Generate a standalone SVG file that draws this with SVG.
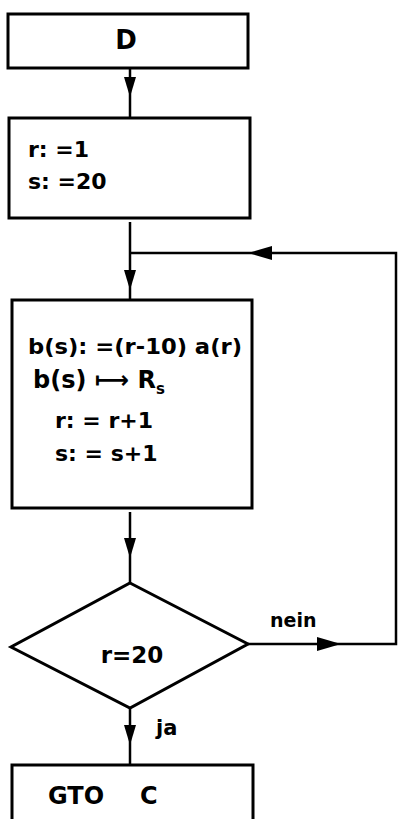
<svg xmlns="http://www.w3.org/2000/svg" width="398" height="819" viewBox="0 0 398 819">
<defs>
<marker id="ah" viewBox="0 0 20 12" refX="20" refY="6" markerWidth="20" markerHeight="12" markerUnits="userSpaceOnUse" orient="auto">
<path d="M0,0 L20,6 L0,12 Z" fill="#000"/>
</marker>
<style>
.box{fill:#fff;stroke:#000;stroke-width:3}
.ln{fill:none;stroke:#000;stroke-width:2.5}
.t{font-family:"DejaVu Sans","Liberation Sans",sans-serif;font-weight:bold;fill:#000}
</style>
</defs>
<rect width="398" height="819" fill="#fff"/>
<g id="connectors">
<path class="ln" d="M130,68 L130,97 L130,118" marker-mid="url(#ah)"/>
<path class="ln" d="M130,222 L130,290 L130,300" marker-mid="url(#ah)"/>
<path class="ln" d="M248,644 L340,644 L396,644 L396,253 L248,253 L130,253"/>
<path d="M248,253 L272,246 L272,260 Z" fill="#000"/>
<path d="M341,644 L317,637 L317,651 Z" fill="#000"/>
<path class="ln" d="M130,512 L130,558 L130,583" marker-mid="url(#ah)"/>
<path class="ln" d="M130,708 L130,745 L130,765" marker-mid="url(#ah)"/>
<text class="t" x="270" y="627" font-size="19">nein</text>
<text class="t" x="156" y="735" font-size="21">ja</text>
</g>
<g id="node-d">
<rect class="box" x="8" y="14" width="240" height="54"/>
<text class="t" x="126" y="49" font-size="26" text-anchor="middle">D</text>
</g>
<g id="node-init">
<rect class="box" x="9" y="118" width="241" height="100"/>
<text class="t" x="28" y="157" font-size="22">r: =1</text>
<text class="t" x="28" y="189" font-size="22">s: =20</text>
</g>
<g id="node-body">
<rect class="box" x="12" y="300" width="240" height="208"/>
<text class="t" x="28" y="354" font-size="21" textLength="214" lengthAdjust="spacingAndGlyphs">b(s): =(r-10) a(r)</text>
<text class="t" x="33" y="388" font-size="24">b(s) ⟼ R<tspan font-size="15" dy="6">s</tspan></text>
<text class="t" x="55" y="428" font-size="22">r: = r+1</text>
<text class="t" x="55" y="461" font-size="22">s: = s+1</text>
</g>
<g id="node-decision">
<polygon class="box" points="130,583 248,644 130,708 11,647"/>
<text class="t" x="132" y="663" font-size="23" text-anchor="middle">r=20</text>
</g>
<g id="node-gto">
<rect class="box" x="12" y="765" width="241" height="60"/>
<text class="t" x="48" y="804" font-size="24">GTO</text>
<text class="t" x="140" y="804" font-size="24">C</text>
</g>
</svg>
